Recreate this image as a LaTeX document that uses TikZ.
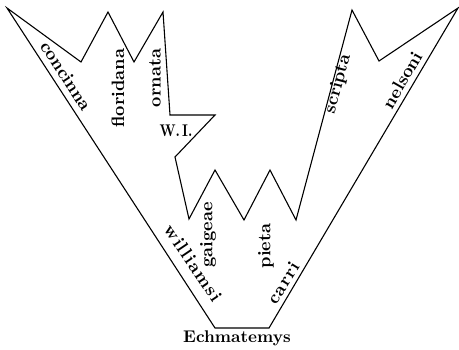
\documentclass[tikz,border=0pt]{standalone}
\usepackage{fontspec}
\setmainfont{lmroman10-regular.otf}[BoldFont=lmroman10-bold.otf]
\begin{document}
\begin{tikzpicture}[
    x=1bp, y=-1bp,
    zweig/.style={line width=1.1pt, line join=miter},
    art/.style={font=\fontsize{18}{20}\selectfont\bfseries\addfontfeatures{LetterSpace=#1},
                inner sep=0pt},
    art/.default=0
  ]
  \useasboundingbox (0,0) rectangle (459,349);
  % Umriss
  \draw[zweig] (215,328) -- (7,8) -- (81,62) -- (108,12) -- (134,62) -- (163,12)
    -- (170,115) -- (215,115) -- (175,157) -- (189,219) -- (215,170) -- (244,220)
    -- (270,170) -- (296,220) -- (352,10) -- (379,61) -- (458,8) -- (269,328) -- cycle;
  % Arten
  \node[art, rotate=-57] (concinna) at (66,76) {concinna};
  \node[art, rotate=90] (floridana) at (118,88) {floridana};
  \node[art, rotate=90] (ornata) at (155,78) {ornata};
  \node[font=\fontsize{17}{19}\selectfont\bfseries, inner sep=0pt, xscale=0.8]
    (wi) at (176,131) {W.\,I.};
  \node[art, rotate=75] (scripta) at (338,84) {scripta};
  \node[art, rotate=60] (nelsoni) at (402,80) {nelsoni};
  \node[art=7, rotate=-56] (williamsi) at (193,263) {williamsi};
  \node[art, rotate=90] (gaigeae) at (208,235) {gaigeae};
  \node[art, rotate=90] (pieta) at (266,246) {pieta};
  \node[art=5, rotate=58] (carri) at (283,283) {carri};
  \node[font=\fontsize{17}{19}\selectfont\bfseries, inner sep=0pt]
    (echmatemys) at (237,338) {Echmatemys};
\end{tikzpicture}
\end{document}
